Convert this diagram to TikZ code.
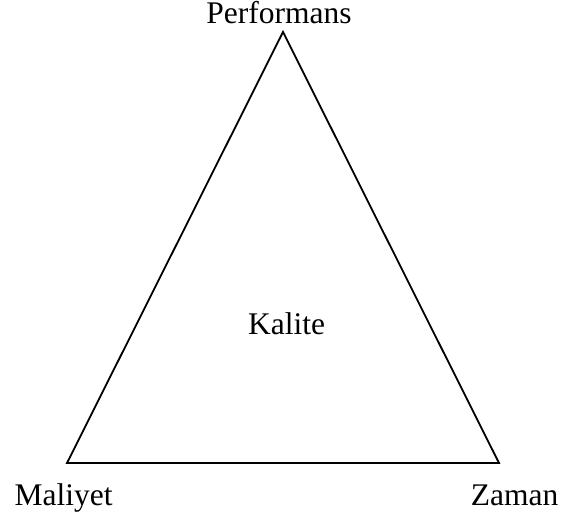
\documentclass[tikz,border=0pt]{standalone}
\usepackage{fontspec}
\setmainfont{Liberation Serif}
\usetikzlibrary{positioning}

\begin{document}
\begin{tikzpicture}[
  x=1pt, y=1pt,
  lbl/.style={font=\fontsize{31.5}{38}\selectfont, inner sep=0pt, anchor=base},
  edge/.style={line width=1.8pt, line join=miter},
]

\useasboundingbox (0,0) rectangle (561,519);

% Corners of the triangle
\coordinate (perf) at (283,487);
\coordinate (mal)  at (67,56);
\coordinate (zam)  at (499,56);

% Triangle
\draw[edge] (perf) -- (zam) -- (mal) -- cycle;

% Labels
\node[lbl] (lperf) at (279,495.5) {Performans};
\node[lbl] (lmal)  at (63.5,14) {Maliyet};
\node[lbl] (lzam)  at (514.5,14) {Zaman};
\node[lbl] (lkal)  at (286.5,184) {Kalite};

\end{tikzpicture}
\end{document}
